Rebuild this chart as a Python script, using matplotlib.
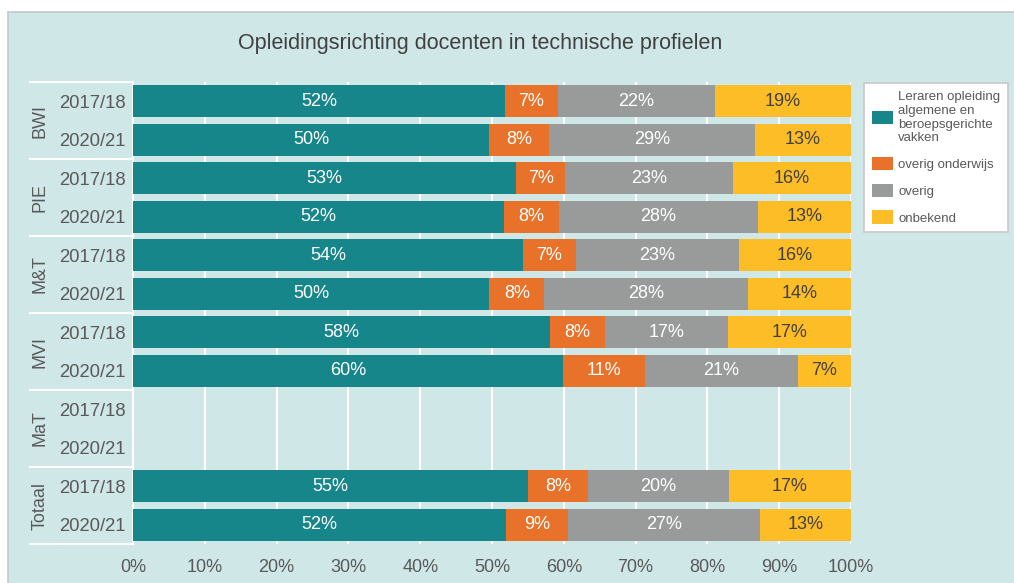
import matplotlib.pyplot as plt
import numpy as np
from matplotlib.patches import Rectangle, Patch
import matplotlib.transforms as mtransforms

plt.rcParams['font.family'] = ['Liberation Sans', 'DejaVu Sans']

# data (percentages per row, top to bottom)
groups = ['BWI', 'PIE', 'M&T', 'MVI', 'MaT', 'Totaal']
years = ['2017/18', '2020/21']
series_names = ['Leraren opleiding\nalgemene en\nberoepsgerichte\nvakken',
                'overig onderwijs', 'overig', 'onbekend']
leraren = [51.8, 49.6, 53.4, 51.7, 54.3, 49.6, 58.1, 59.9, np.nan, np.nan, 55.0, 51.9]
overig_ond = [7.4, 8.3, 6.8, 7.6, 7.4, 7.7, 7.6, 11.4, np.nan, np.nan, 8.4, 8.7]
overig = [21.8, 28.7, 23.4, 27.7, 22.7, 28.3, 17.2, 21.3, np.nan, np.nan, 19.6, 26.7]
onbekend = [19.0, 13.4, 16.4, 13.0, 15.6, 14.4, 17.1, 7.4, np.nan, np.nan, 17.0, 12.7]

colors = ['#17868a', '#e8722a', '#999b9b', '#fdbd27']
text_colors = ['white', 'white', 'white', '#404040']
bg = '#d0e7e7'

fig = plt.figure(figsize=(10.14, 5.83), dpi=100, facecolor='white')
W, H = 1014, 583
panel = Rectangle((8 / W, -0.01), 1.0, 1 - 12 / H + 0.01, transform=fig.transFigure,
                  facecolor=bg, edgecolor='#c4c8c8', linewidth=1.2, zorder=-5)
fig.patches.append(panel)

ax = fig.add_axes([133 / W, 1 - 544 / H, 718 / W, 462 / H])
ax.patch.set_alpha(0)

n = len(leraren)
y = np.arange(n)
data = [leraren, overig_ond, overig, onbekend]
left = np.zeros(n)
for vals, c, tc, name in zip(data, colors, text_colors, series_names):
    v = np.nan_to_num(np.array(vals, dtype=float))
    ax.barh(y, v, left=left, height=0.82, color=c, zorder=3, label=name)
    for i in range(n):
        if v[i] > 0:
            ax.text(left[i] + v[i] / 2, y[i], f'{int(round(v[i]))}%', ha='center', va='center',
                    color=tc, fontsize=13, zorder=4)
    left = left + v

ax.set_xlim(0, 100)
ax.set_ylim(n - 0.5, -0.5)
ax.set_xticks(np.arange(0, 101, 10))
ax.set_xticklabels([f'{t}%' for t in range(0, 101, 10)], fontsize=13, color='#595959')
ax.grid(axis='x', color='white', linewidth=1.5, zorder=1)
ax.set_axisbelow(True)
ax.tick_params(axis='x', length=0, pad=11)
ax.tick_params(axis='y', length=0, pad=5)
ax.set_yticks(y)
ax.set_yticklabels(years * len(groups), fontsize=13.3, color='#595959')
for s in ['top', 'right', 'bottom']:
    ax.spines[s].set_visible(False)
ax.spines['left'].set_color('white')
ax.spines['left'].set_linewidth(1.5)

# group separators and labels
trans = mtransforms.blended_transform_factory(ax.transAxes, ax.transData)
x0 = (30 - 133) / 718
for k in range(len(groups) + 1):
    yy = k * 2 - 0.5
    ax.plot([x0, 0], [yy, yy], color='white', linewidth=1.5, transform=trans, clip_on=False, zorder=5)
for k, g in enumerate(groups):
    ax.text((40 - 133) / 718, k * 2 + 0.5, g, transform=trans, rotation=90, ha='center', va='center',
            fontsize=13, color='#595959')

fig.text(480 / W, 1 - 44 / H, 'Opleidingsrichting docenten in technische profielen',
         ha='center', va='center', fontsize=15.5, color='#404040')

handles = [Patch(facecolor=c, edgecolor='none') for c in colors]
leg = fig.legend(handles, series_names, loc='upper left', bbox_to_anchor=(864 / W, 1 - 83 / H),
                 fontsize=9.5, frameon=True, fancybox=False, edgecolor='#c8c8c8', framealpha=1,
                 handlelength=1.6, handleheight=1.2, labelspacing=0.95, borderpad=0.6,
                 handletextpad=0.4, labelcolor='#595959', borderaxespad=0)
leg.get_frame().set_linewidth(1.2)

fig.savefig('out.png', dpi=100, facecolor='white')
